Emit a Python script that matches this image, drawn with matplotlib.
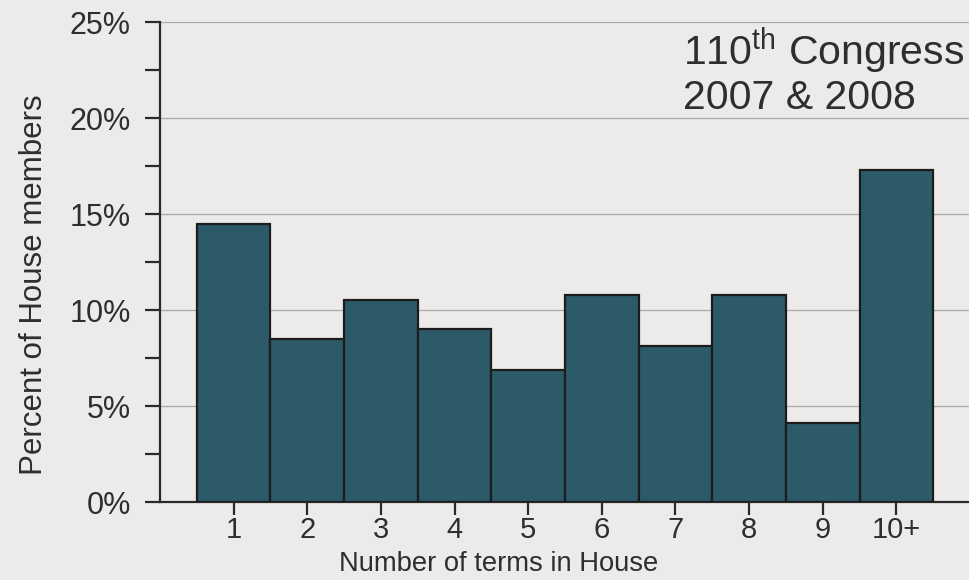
import matplotlib
matplotlib.use("Agg")
import matplotlib.pyplot as plt
from matplotlib.ticker import MultipleLocator, FuncFormatter

plt.rcParams['font.family'] = ['Liberation Sans', 'DejaVu Sans']
plt.rcParams['mathtext.fontset'] = 'custom'
plt.rcParams['mathtext.rm'] = 'Liberation Sans'

categories = ["1", "2", "3", "4", "5", "6", "7", "8", "9", "10+"]
percent_members = [14.5, 8.5, 10.5, 9.0, 6.9, 10.8, 8.1, 10.8, 4.1, 17.3]
y_ticks = [0, 5, 10, 15, 20, 25]

bg = "#ecebe9"
bar_color = "#2c5a69"
text_color = "#2e2e2e"

fig = plt.figure(figsize=(9.7, 5.8), dpi=100, facecolor=bg)
ax = fig.add_axes([160/970, 1-502/580, 1-160/970, (502-22)/580])
ax.set_facecolor(bg)

positions = list(range(1, len(categories) + 1))
ax.bar(positions, percent_members, width=1.0, color=bar_color,
       edgecolor="#1c1c1c", linewidth=1.6, zorder=3)

ax.set_xlim(0.0, 11.0)
ax.set_ylim(0, 25)
ax.set_xticks(positions)
ax.set_xticklabels(categories)
ax.set_yticks(y_ticks)
ax.yaxis.set_minor_locator(MultipleLocator(2.5))
ax.yaxis.set_major_formatter(FuncFormatter(lambda v, p: f"{int(v)}%"))

ax.grid(axis='y', which='major', color="#a8a8a8", linewidth=0.9, zorder=0)
ax.set_axisbelow(True)

for s in ['top', 'right']:
    ax.spines[s].set_visible(False)
for s in ['left', 'bottom']:
    ax.spines[s].set_color("#2a2a2a")
    ax.spines[s].set_linewidth(1.6)

ax.tick_params(axis='y', which='both', direction='out', length=11, width=1.6,
               color="#2a2a2a", labelsize=22, labelcolor=text_color, pad=10)
ax.tick_params(axis='x', direction='out', length=9, width=1.6,
               color="#2a2a2a", labelsize=21, labelcolor=text_color, pad=1)

ax.set_ylabel("Percent of House members", fontsize=22.5, color=text_color)
ax.set_xlabel("Number of terms in House", fontsize=19.7, color=text_color)
ax.yaxis.set_label_coords(-0.137, 0.452)
ax.xaxis.set_label_coords(0.4185, -0.102)

ax.text(683/970, 1-26/580, "110$^{\\mathrm{th}}$ Congress\n2007 & 2008",
        transform=fig.transFigure, fontsize=29.5, color=text_color,
        ha='left', va='top', linespacing=1.1, zorder=5)

fig.savefig("out.png", dpi=100, facecolor=bg)
